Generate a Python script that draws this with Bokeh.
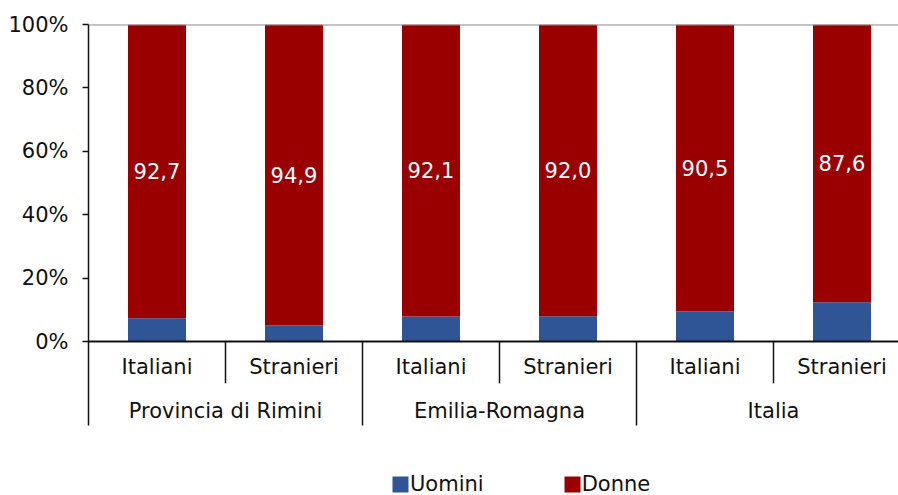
from bokeh.plotting import figure
from bokeh.models import Range1d, FixedTicker, Span, Legend, LegendItem, ColumnDataSource
from bokeh.core.properties import value
from bokeh.embed import file_html
from bokeh.resources import INLINE

# ---- data ----
groups = ["Provincia di Rimini", "Emilia-Romagna", "Italia"]
subcats = ["Italiani", "Stranieri", "Italiani", "Stranieri", "Italiani", "Stranieri"]
donne = [92.7, 94.9, 92.1, 92.0, 90.5, 87.6]
uomini = [round(100 - d, 1) for d in donne]
yticks = [0, 20, 40, 60, 80, 100]
ytick_labels = ["0%", "20%", "40%", "60%", "80%", "100%"]
series_names = ["Uomini", "Donne"]
colors = ["#2F5597", "#9A0000"]

FONT = "DejaVu Sans"
FS = "21px"

n = len(subcats)
xs = [i + 0.5 for i in range(n)]
px_per_cat = 137.0
frame_w = 810
ymin = -48.58

p = figure(width=898, height=495, output_backend="svg", toolbar_location=None,
           x_range=Range1d(0, frame_w / px_per_cat), y_range=Range1d(ymin, 100),
           min_border_left=88, min_border_right=0, min_border_top=24, min_border_bottom=0,
           x_axis_location=None)
p.outline_line_color = None
p.xgrid.visible = False
p.ygrid.visible = False
p.background_fill_color = "white"
p.border_fill_color = "white"

yax = p.yaxis[0]
yax.ticker = FixedTicker(ticks=yticks)
yax.major_label_overrides = {t: l for t, l in zip(yticks, ytick_labels)}
yax.bounds = (-26.5, 100)
yax.major_tick_out = 6
yax.major_tick_in = 0
yax.minor_tick_out = 0
yax.minor_tick_in = 0
yax.axis_line_color = "#111111"
yax.axis_line_width = 1.5
yax.major_tick_line_color = "#111111"
yax.major_tick_line_width = 1.5
yax.major_label_text_font = FONT
yax.major_label_text_font_size = FS
yax.major_label_text_color = "#111111"
yax.major_label_standoff = 14

src = ColumnDataSource(dict(x=xs, u=uomini, d=donne, top=[100] * n,
                            mid=[u + d / 2 for u, d in zip(uomini, donne)],
                            lab=[f"{d:.1f}".replace(".", ",") for d in donne],
                            sub=subcats))

bw = 58 / px_per_cat
r_u = p.vbar(x="x", width=bw, bottom=0, top="u", source=src, fill_color=colors[0], line_color=None)
r_d = p.vbar(x="x", width=bw, bottom="u", top="top", source=src, fill_color=colors[1], line_color=None)

p.text(x="x", y="mid", text="lab", source=src, text_color="white", text_font=value(FONT),
       text_font_size=FS, text_align="center", text_baseline="middle")

p.add_layout(Span(location=100, dimension="width", line_color="#8a8a8a", line_width=2))
p.add_layout(Span(location=0, dimension="width", line_color="#111111", line_width=2))

# separators
inner_x = [1, 3, 5]
group_x = [2, 4]
p.segment(x0=inner_x, x1=inner_x, y0=[0] * 3, y1=[-13.2] * 3, line_color="#111111", line_width=1.5)
p.segment(x0=group_x, x1=group_x, y0=[0] * 2, y1=[-26.5] * 2, line_color="#111111", line_width=1.5)

# category labels
p.text(x="x", y=-8.2, text="sub", source=src, text_color="#111111", text_font=value(FONT),
       text_font_size=FS, text_align="center", text_baseline="middle")
p.text(x=[1, 3, 5], y=[-21.8] * 3, text=groups, text_color="#111111", text_font=value(FONT),
       text_font_size=FS, text_align="center", text_baseline="middle")

legend = Legend(items=[LegendItem(label=series_names[0], renderers=[r_u]),
                       LegendItem(label=series_names[1], renderers=[r_d])],
                orientation="horizontal", location=(302, -1), padding=0, margin=0,
                spacing=78, glyph_width=20, glyph_height=20, label_height=20,
                label_standoff=0, border_line_color=None, background_fill_alpha=0,
                label_text_font=FONT, label_text_font_size=FS, label_text_color="#111111")
p.add_layout(legend)

open("out.html", "w").write(file_html(p, INLINE))
